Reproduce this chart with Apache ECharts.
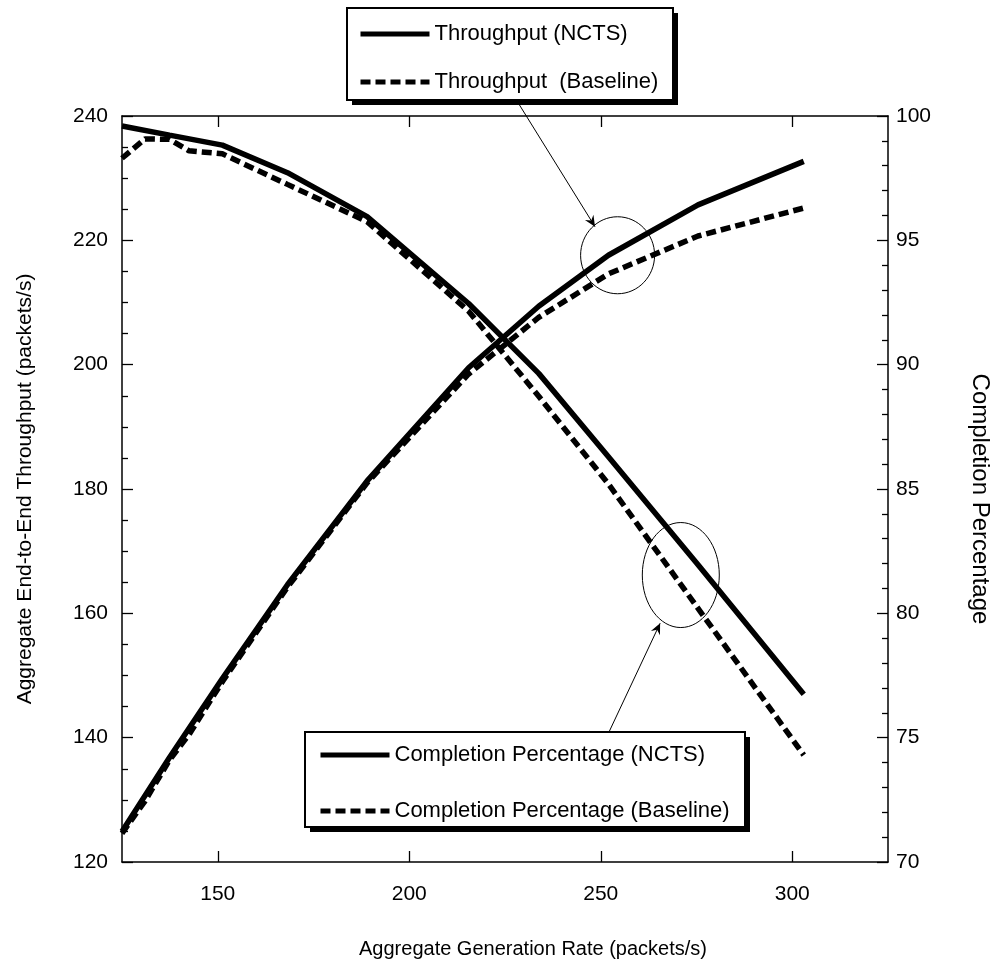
<!DOCTYPE html>
<html>
<head>
<meta charset="utf-8">
<script src="https://cdn.jsdelivr.net/npm/echarts@6/dist/echarts.min.js"></script>
<style>
html,body{margin:0;padding:0;background:#fff;}
#chart{width:1000px;height:975px;}
</style>
</head>
<body>
<div id="chart"></div>
<script>
// ---- data ----
const rateNCTS = [125, 137.4, 151.2, 168.2, 189, 215.5, 233.8, 252, 275.4, 303];
const throughputNCTS = [124.9, 136.8, 149.5, 164.6, 181.3, 199.5, 209.4, 217.6, 225.7, 232.7];
const completionNCTS = [99.6, 99.23, 98.83, 97.72, 95.95, 92.46, 89.65, 86.3, 81.95, 76.75];

const rateBaseline = [125, 131, 137.4, 142.5, 151.2, 168.2, 189, 215.5, 233.8, 252, 275.4, 303];
const throughputBaseline = [124.6, 129.8, 136.4, 140.5, 149.0, 164.2, 181.0, 198.5, 207.6, 214.6, 220.7, 225.2];
const completionBaseline = [98.3, 99.08, 99.06, 98.6, 98.48, 97.25, 95.75, 92.15, 88.73, 85.2, 80.2, 74.3];

const xTickValues = [150, 200, 250, 300];
const seriesNames = ['Throughput (NCTS)', 'Throughput  (Baseline)', 'Completion Percentage (NCTS)', 'Completion Percentage (Baseline)'];

// annotation anchors in data coordinates
const throughputCircle = [254.4, 217.6];
const throughputArrowTip = [248.5, 222.2];
const completionCircle = [270.9, 81.54];
const completionArrowTip = [265.5, 79.6];

// ---- helpers ----
const FONT = '"Liberation Sans", Arial, sans-serif';
const pairs = (xs, ys) => xs.map((x, i) => [x, ys[i]]);
const DASH = [10, 5];
const LW = 5.5;

const chart = echarts.init(document.getElementById('chart'), null, {renderer: 'canvas'});

const axisLineStyle = {color: '#000', width: 1.5};
const tickLineStyle = {color: '#000', width: 1.3};

const legendCommon = {
  orient: 'vertical',
  itemWidth: 69, itemHeight: 14,
  backgroundColor: 'transparent', borderWidth: 0,
  selectedMode: false,
  z: 20,
  itemStyle: {opacity: 0, borderWidth: 0},
  lineStyle: {width: 5},
  textStyle: {fontFamily: FONT, fontSize: 22, color: '#000'}
};

chart.setOption({
  animation: false,
  backgroundColor: '#fff',
  textStyle: {fontFamily: FONT, color: '#000'},
  grid: {left: 122, right: 108, top: 116, bottom: 113, containLabel: false},
  xAxis: [{
    type: 'value', min: 125, max: 325, position: 'bottom',
    name: 'Aggregate Generation Rate (packets/s)',
    nameLocation: 'middle', nameGap: 77,
    nameTextStyle: {fontFamily: FONT, fontSize: 20, color: '#000', padding: [0, 0, 0, 56]},
    axisLine: {show: true, lineStyle: axisLineStyle},
    axisTick: {show: true, inside: true, length: 11, lineStyle: tickLineStyle, customValues: xTickValues},
    axisLabel: {show: true, fontFamily: FONT, fontSize: 21, color: '#000', margin: 22, customValues: xTickValues},
    splitLine: {show: false}
  }, {
    type: 'value', min: 125, max: 325, position: 'top',
    axisLine: {show: true, lineStyle: axisLineStyle},
    axisTick: {show: true, inside: true, length: 11, lineStyle: tickLineStyle, customValues: xTickValues},
    axisLabel: {show: false},
    splitLine: {show: false}
  }],
  yAxis: [{
    type: 'value', min: 120, max: 240, interval: 20, position: 'left',
    name: 'Aggregate End-to-End Throughput (packets/s)',
    nameLocation: 'middle', nameGap: 86,
    nameTextStyle: {fontFamily: FONT, fontSize: 21, color: '#000'},
    axisLine: {show: true, lineStyle: axisLineStyle},
    axisTick: {show: true, inside: true, length: 11, lineStyle: tickLineStyle},
    minorTick: {show: true, splitNumber: 4, length: 6, lineStyle: tickLineStyle},
    axisLabel: {fontFamily: FONT, fontSize: 21, color: '#000', margin: 14},
    splitLine: {show: false}
  }, {
    type: 'value', min: 70, max: 100, interval: 5, position: 'right',
    name: 'Completion Percentage',
    nameLocation: 'middle', nameGap: 80, nameRotate: -90,
    nameTextStyle: {fontFamily: FONT, fontSize: 24, color: '#000', padding: [0, 0, 0, 20]},
    axisLine: {show: true, lineStyle: axisLineStyle},
    axisTick: {show: true, inside: true, length: 11, lineStyle: tickLineStyle},
    minorTick: {show: true, splitNumber: 5, length: 6, lineStyle: tickLineStyle},
    axisLabel: {fontFamily: FONT, fontSize: 21, color: '#000', margin: 8},
    splitLine: {show: false}
  }],
  legend: [Object.assign({}, legendCommon, {
    data: [seriesNames[0], seriesNames[1]],
    left: 347, top: 10, itemGap: 26,
    padding: [13, 14, 9, 11]
  }), Object.assign({}, legendCommon, {
    data: [seriesNames[2], seriesNames[3]],
    left: 305, top: 733, itemGap: 34,
    padding: [11, 18, 6, 13]
  })],
  series: [{
    name: seriesNames[0], type: 'line', xAxisIndex: 0, yAxisIndex: 0,
    data: pairs(rateNCTS, throughputNCTS), symbol: 'none', smooth: false,
    lineStyle: {color: '#000', width: LW, type: 'solid'}, itemStyle: {color: '#000'}
  }, {
    name: seriesNames[1], type: 'line', xAxisIndex: 0, yAxisIndex: 0,
    data: pairs(rateBaseline, throughputBaseline), symbol: 'none', smooth: false,
    lineStyle: {color: '#000', width: LW, type: DASH}, itemStyle: {color: '#000'}
  }, {
    name: seriesNames[2], type: 'line', xAxisIndex: 0, yAxisIndex: 1,
    data: pairs(rateNCTS, completionNCTS), symbol: 'none', smooth: false,
    lineStyle: {color: '#000', width: LW, type: 'solid'}, itemStyle: {color: '#000'}
  }, {
    name: seriesNames[3], type: 'line', xAxisIndex: 0, yAxisIndex: 1,
    data: pairs(rateBaseline, completionBaseline), symbol: 'none', smooth: false,
    lineStyle: {color: '#000', width: LW, type: DASH}, itemStyle: {color: '#000'}
  }]
});

// ---- annotations: legend boxes, ellipses + arrows ----
function arrowHead(tip, from, len, half) {
  const dx = tip[0] - from[0], dy = tip[1] - from[1];
  const d = Math.hypot(dx, dy), ux = dx / d, uy = dy / d;
  const bx = tip[0] - ux * len, by = tip[1] - uy * len;
  const nx = -uy, ny = ux;
  const mx = tip[0] - ux * len * 0.65, my = tip[1] - uy * len * 0.65;
  return [tip, [bx + nx * half, by + ny * half], [mx, my], [bx - nx * half, by - ny * half]];
}
function shadowBox(x, y, w, h) {
  return [
    {type: 'rect', shape: {x: x + 5, y: y + 5, width: w, height: h}, style: {fill: '#000'}, z: 10},
    {type: 'rect', shape: {x: x, y: y, width: w, height: h}, style: {fill: '#fff', stroke: '#000', lineWidth: 2}, z: 11}
  ];
}
const c1 = chart.convertToPixel({xAxisIndex: 0, yAxisIndex: 0}, throughputCircle);
const t1 = chart.convertToPixel({xAxisIndex: 0, yAxisIndex: 0}, throughputArrowTip);
const c2 = chart.convertToPixel({xAxisIndex: 0, yAxisIndex: 1}, completionCircle);
const t2 = chart.convertToPixel({xAxisIndex: 0, yAxisIndex: 1}, completionArrowTip);
const s1 = [517, 101];
const s2 = [609, 732];
chart.setOption({
  graphic: [].concat(
    shadowBox(347, 8, 326, 92),
    shadowBox(305, 732, 440, 95),
    [
      {type: 'ellipse', shape: {cx: c1[0], cy: c1[1], rx: 37, ry: 38.5}, style: {fill: 'none', stroke: '#000', lineWidth: 1}, z: 12},
      {type: 'ellipse', shape: {cx: c2[0], cy: c2[1], rx: 38.5, ry: 52.5}, style: {fill: 'none', stroke: '#000', lineWidth: 1}, z: 12},
      {type: 'line', shape: {x1: s1[0], y1: s1[1], x2: t1[0], y2: t1[1]}, style: {stroke: '#000', lineWidth: 1}, z: 12},
      {type: 'polygon', shape: {points: arrowHead(t1, s1, 11, 5)}, style: {fill: '#000'}, z: 12},
      {type: 'line', shape: {x1: s2[0], y1: s2[1], x2: t2[0], y2: t2[1]}, style: {stroke: '#000', lineWidth: 1}, z: 12},
      {type: 'polygon', shape: {points: arrowHead(t2, s2, 11, 5)}, style: {fill: '#000'}, z: 12}
    ]
  )
});
</script>
</body>
</html>
